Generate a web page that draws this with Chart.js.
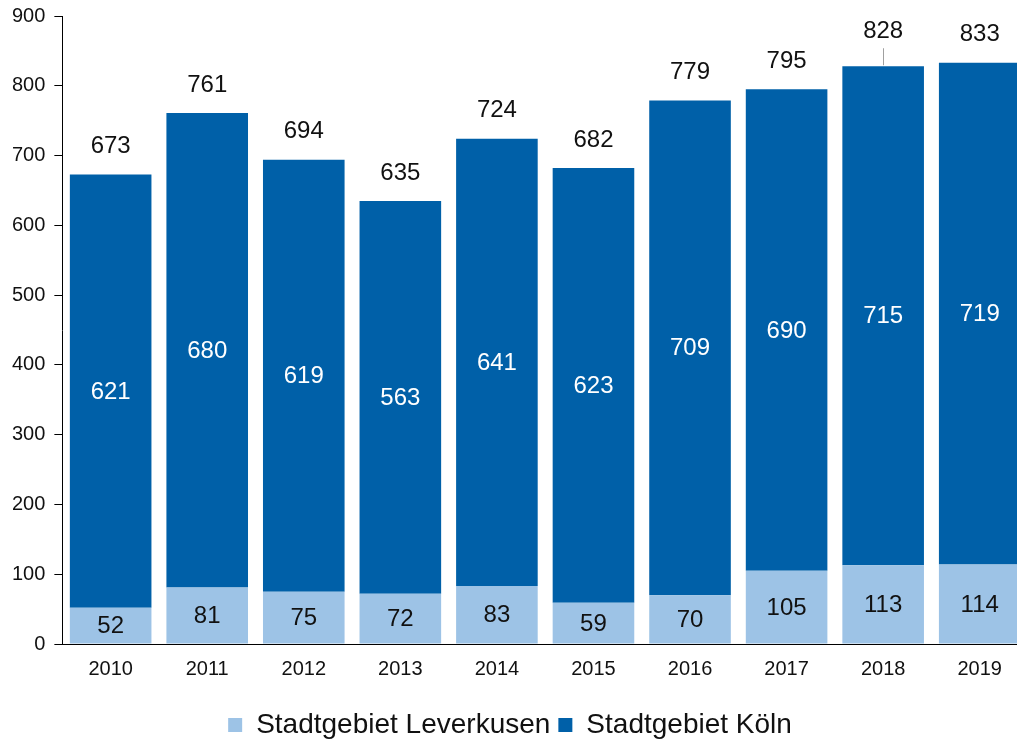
<!DOCTYPE html>
<html>
<head>
<meta charset="utf-8">
<script src="https://cdn.jsdelivr.net/npm/chart.js@4/dist/chart.umd.min.js"></script>
<style>
  html, body { margin: 0; padding: 0; background: #fff; overflow: hidden; }
  #wrap { width: 1017px; height: 740px; position: relative; }
</style>
</head>
<body>
<div id="wrap"><canvas id="c"></canvas></div>
<script>
const years = ['2010','2011','2012','2013','2014','2015','2016','2017','2018','2019'];
const leverkusen = [52, 81, 75, 72, 83, 59, 70, 105, 113, 114];
const koeln = [621, 680, 619, 563, 641, 623, 709, 690, 715, 719];
const seriesNames = ['Stadtgebiet Leverkusen', 'Stadtgebiet Köln'];
const yTicks = [0, 100, 200, 300, 400, 500, 600, 700, 800, 900];

const FONT = "'Liberation Sans', Arial, sans-serif";

// the plot in the reference runs past the right edge of the picture
const layoutTweak = {
  id: 'layoutTweak',
  afterLayout(chart) {
    const extraRight = 11;
    const extraTop = 5;
    const x = chart.scales.x;
    x.right += extraRight;
    x.width += extraRight;
    x.configure();
    const y = chart.scales.y;
    y.top -= extraTop;
    y.height += extraTop;
    y.configure();
    chart.chartArea.right += extraRight;
    chart.chartArea.width += extraRight;
    chart.chartArea.top -= extraTop;
    chart.chartArea.height += extraTop;
    const lg = chart.legend;
    if (lg) { lg.top += 9; lg.bottom += 9; }
  }
};

const labelPlugin = {
  id: 'valueLabels',
  afterDatasetsDraw(chart) {
    const ctx = chart.ctx;
    const y = chart.scales.y;
    ctx.save();
    ctx.font = '24px ' + FONT;
    ctx.textAlign = 'center';
    ctx.textBaseline = 'middle';
    chart.data.datasets.forEach((ds, di) => {
      const meta = chart.getDatasetMeta(di);
      meta.data.forEach((bar, i) => {
        const p = bar.getProps(['x', 'y', 'base'], true);
        ctx.fillStyle = di === 0 ? '#111' : '#fff';
        ctx.fillText(String(ds.data[i]), p.x, (p.y + p.base) / 2 + 1);
      });
    });
    const meta0 = chart.getDatasetMeta(0);
    years.forEach((yr, i) => {
      const total = leverkusen[i] + koeln[i];
      const top = y.getPixelForValue(total);
      const x = meta0.data[i].x;
      const lifted = (i === 8);
      const ty = lifted ? top - 35 : top - 28;
      if (lifted) {
        ctx.strokeStyle = '#a0a0a0';
        ctx.lineWidth = 1;
        ctx.beginPath();
        ctx.moveTo(Math.round(x) + 0.5, ty + 17);
        ctx.lineTo(Math.round(x) + 0.5, top - 1);
        ctx.stroke();
      }
      ctx.fillStyle = '#111';
      ctx.fillText(String(total), x, ty);
    });
    ctx.restore();
  }
};

new Chart(document.getElementById('c'), {
  type: 'bar',
  data: {
    labels: years,
    datasets: [
      { label: seriesNames[0], data: leverkusen, backgroundColor: '#9DC3E6', borderWidth: 0 },
      { label: seriesNames[1], data: koeln, backgroundColor: '#0060A8', borderWidth: 0 }
    ]
  },
  options: {
    responsive: true,
    maintainAspectRatio: false,
    animation: false,
    layout: { padding: { left: 3, right: 0, top: 0, bottom: 0 } },
    datasets: { bar: { categoryPercentage: 1.0, barPercentage: 0.845 } },
    plugins: {
      tooltip: { enabled: false },
      legend: {
        position: 'bottom',
        labels: {
          font: { family: FONT, size: 28 },
          color: '#111',
          boxWidth: 14,
          boxHeight: 14,
          padding: 8
        }
      }
    },
    scales: {
      x: {
        stacked: true,
        grid: { display: true, drawOnChartArea: false, drawTicks: false, color: '#000' },
        border: { display: true, color: '#000', width: 1 },
        ticks: { font: { family: FONT, size: 20 }, color: '#111', padding: 13 }
      },
      y: {
        stacked: true,
        min: 0,
        max: 900,
        afterBuildTicks(axis) { axis.ticks = yTicks.map(v => ({ value: v })); },
        grid: { display: true, drawOnChartArea: false, drawTicks: true, tickLength: 8, color: '#000' },
        border: { display: true, color: '#000', width: 1 },
        ticks: { font: { family: FONT, size: 20 }, color: '#111', padding: 9 }
      }
    }
  },
  plugins: [layoutTweak, labelPlugin]
});
</script>
</body>
</html>
